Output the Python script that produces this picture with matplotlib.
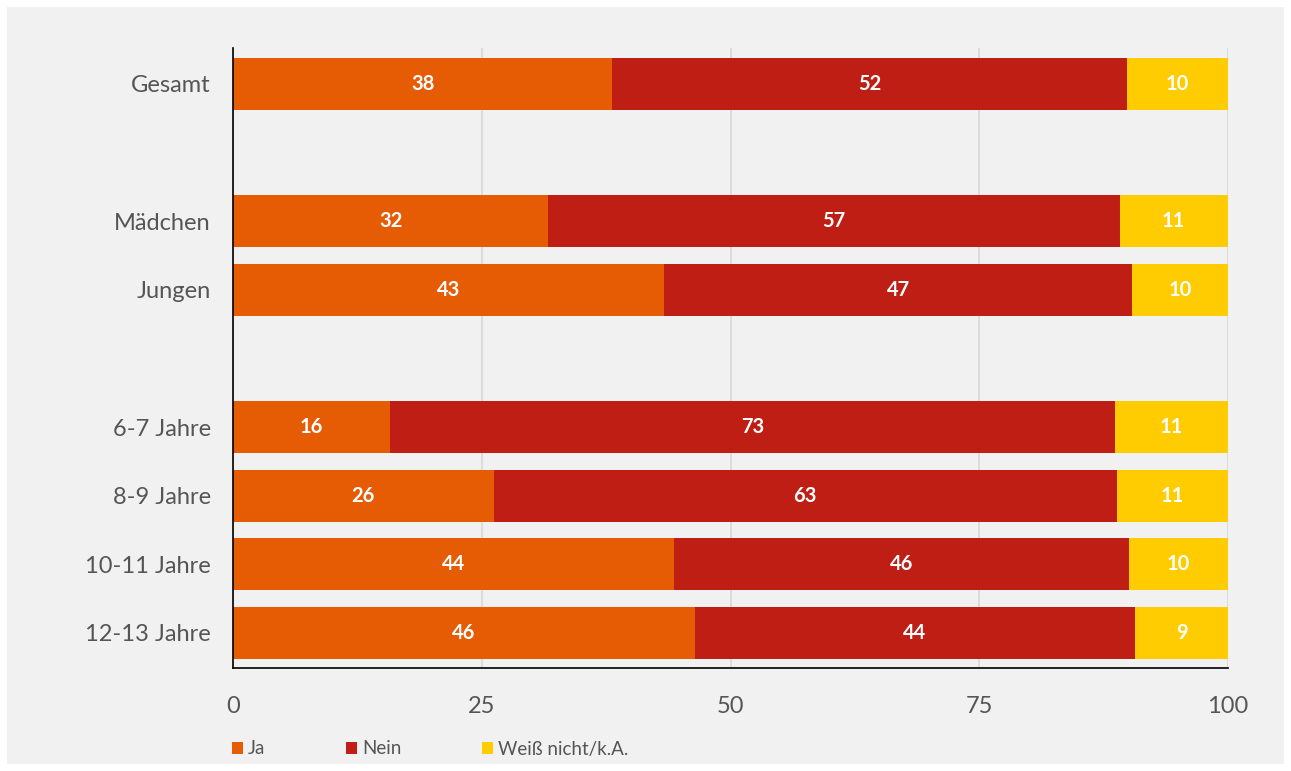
import matplotlib.pyplot as plt
from matplotlib.patches import Rectangle, Patch

categories = ["Gesamt", "Mädchen", "Jungen", "6-7 Jahre", "8-9 Jahre", "10-11 Jahre", "12-13 Jahre"]
slots = [0, 2, 3, 5, 6, 7, 8]  # empty slots separate the groups

ja = [38.1, 31.7, 43.3, 15.8, 26.2, 44.3, 46.4]
nein = [51.75, 57.4, 47.1, 72.8, 62.6, 45.7, 44.3]
weiss = [10.15, 10.9, 9.6, 11.4, 11.2, 10.0, 9.3]

series = ["Ja", "Nein", "Weiß nicht/k.A."]
colors = ["#E65C05", "#BE1E13", "#FECC00"]

plt.rcParams['font.family'] = ['Lato', 'DejaVu Sans']

fig = plt.figure(figsize=(12.91, 7.71), dpi=100, facecolor="white")
fig.patches.append(Rectangle((7 / 1291, 7 / 771), 1277 / 1291, 757 / 771,
                             transform=fig.transFigure, facecolor="#f1f1f1",
                             edgecolor="none", zorder=-10))

ax = fig.add_axes([233 / 1291, 1 - 668 / 771, 995 / 1291, 620 / 771])
ax.set_facecolor("#f1f1f1")

left = [0] * len(categories)
for vals, name, col in zip([ja, nein, weiss], series, colors):
    bars = ax.barh(slots, vals, left=left, height=0.76, color=col, label=name, zorder=3)
    ax.bar_label(bars, labels=[f"{v:.0f}" for v in vals], label_type="center",
                 color="white", fontsize=14.5, fontweight="bold")
    left = [l + v for l, v in zip(left, vals)]

ax.set_xlim(0, 100)
ax.set_ylim(8.51, -0.52)
ax.set_yticks(slots)
ax.set_yticklabels(categories)
ax.set_xticks([0, 25, 50, 75, 100])
ax.tick_params(axis="both", length=0, labelsize=17, labelcolor="#555555")
ax.tick_params(axis="x", pad=20)
ax.tick_params(axis="y", pad=16)
ax.grid(axis="x", color="#dcdcdc", linewidth=1.5, zorder=0)

for s in ["top", "right"]:
    ax.spines[s].set_visible(False)
for s in ["left", "bottom"]:
    ax.spines[s].set_color("black")
    ax.spines[s].set_linewidth(1.2)
    ax.spines[s].set_zorder(5)

handles = [Patch(facecolor=c, edgecolor="none") for c in colors]
fig.legend(handles, series, ncol=3, loc="center left",
           bbox_to_anchor=(215 / 1291, 1 - 749 / 771), frameon=False,
           fontsize=13.5, labelcolor="#555555", handlelength=0.6,
           handleheight=0.6, handletextpad=0.25, columnspacing=4.3)

plt.savefig("out.png", dpi=100, facecolor=fig.get_facecolor())
